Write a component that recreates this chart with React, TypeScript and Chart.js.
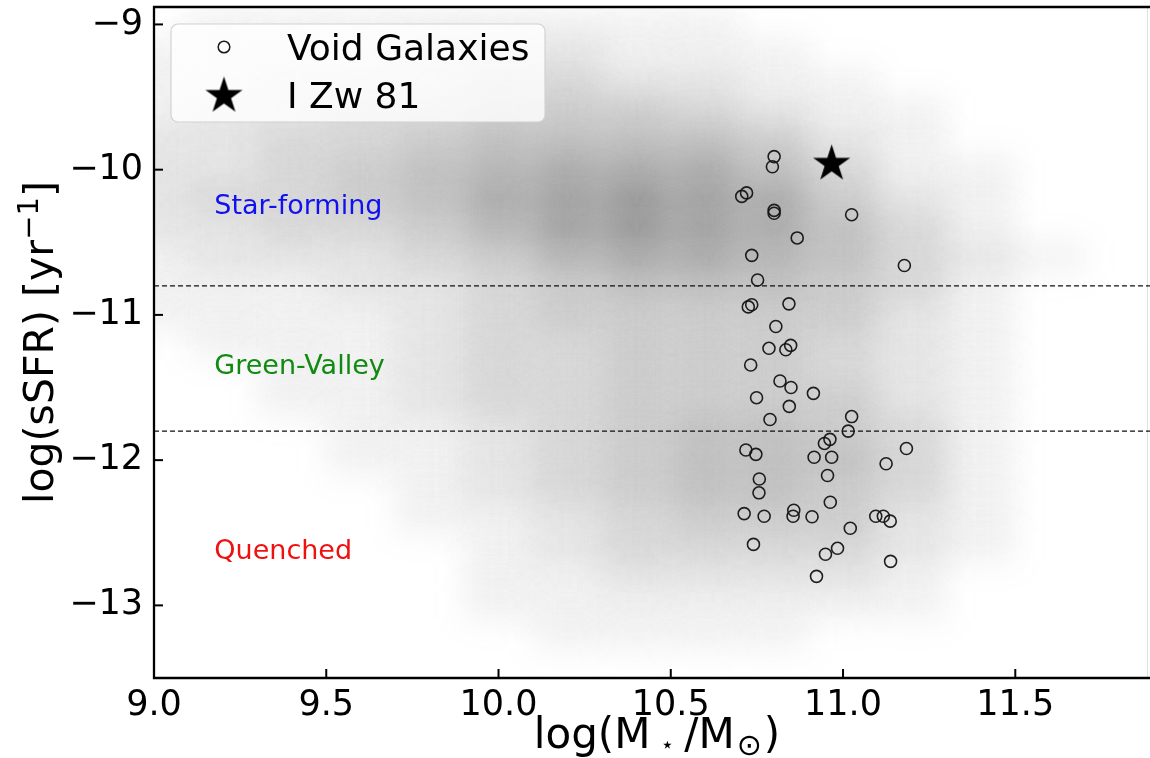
import React, { useEffect, useRef } from 'react';
import { Chart, registerables } from 'chart.js';

Chart.register(...registerables);

// ---------------- data ----------------
const voidLabel = 'Void Galaxies';
const starLabel = 'I Zw 81';

const voidMass = [
  10.80, 10.795, 10.72, 10.706, 10.80, 10.80, 11.025, 10.867, 10.735, 11.178,
  10.752, 10.735, 10.725, 10.843, 10.805, 10.785, 10.848, 10.834, 10.732, 10.817,
  10.849, 10.914, 10.749, 10.844, 10.788, 11.025, 11.015, 10.962, 10.946, 10.718,
  10.747, 11.184, 10.916, 10.967, 11.125, 10.757, 10.955, 10.756, 10.963, 10.713,
  10.771, 10.857, 10.855, 10.910, 11.095, 11.117, 11.137, 11.021, 10.74, 10.984,
  10.949, 11.138, 10.923,
];
const voidSSFR = [
  -9.91, -9.98, -10.16, -10.184, -10.28, -10.30, -10.31, -10.47, -10.59, -10.66,
  -10.76, -10.93, -10.945, -10.924, -11.08, -11.23, -11.21, -11.24, -11.345, -11.455,
  -11.50, -11.54, -11.57, -11.63, -11.72, -11.70, -11.80, -11.857, -11.885, -11.93,
  -11.96, -11.92, -11.98, -11.98, -12.025, -12.13, -12.106, -12.225, -12.29, -12.368,
  -12.386, -12.345, -12.386, -12.39, -12.386, -12.386, -12.42, -12.469, -12.58, -12.607,
  -12.648, -12.697, -12.80,
];

const starMass = [10.967];
const starSSFR = [-9.96];

const boundaries = [-10.8, -11.8];

const regionNames = ['Star-forming', 'Green-Valley', 'Quenched'];
const regionColors = ['#1010f0', '#108a10', '#f01010'];
const regionX = 9.175;
const regionY = [-10.26, -11.36, -12.63];

const xTickValues = [9.0, 9.5, 10.0, 10.5, 11.0, 11.5];
const yTickValues = [-13, -12, -11, -10, -9];

// background sample: estimated point density (0-9) on a 0.2 x 0.2 grid
const cloudX = [9.0, 9.2, 9.4, 9.6, 9.8, 10.0, 10.2, 10.4, 10.6, 10.8, 11.0, 11.2, 11.4, 11.6, 11.8];
const cloudY = [
  -9.0, -9.2, -9.4, -9.6, -9.8, -10.0, -10.2, -10.4, -10.6, -10.8, -11.0, -11.2,
  -11.4, -11.6, -11.8, -12.0, -12.2, -12.4, -12.6, -12.8, -13.0, -13.2, -13.4,
];
const cloudDensity = [
  '011111111000000',
  '111122211100000',
  '112223322110000',
  '122334443211000',
  '223345555421000',
  '223456777531100',
  '233457898742100',
  '223346898753100',
  '122234677653210',
  '111223455543100',
  '111123444442100',
  '011123344432100',
  '001123344432100',
  '001123344442100',
  '000112345543100',
  '000112345553100',
  '000012345543100',
  '000011234442100',
  '000001233332100',
  '000001122221000',
  '000001111111000',
  '000000111100000',
  '000000000000000',
];

// ---------------- helpers ----------------
const FONT = '"DejaVu Sans", "Liberation Sans", sans-serif';

function makeStar(R: number): HTMLCanvasElement {
  const s = Math.ceil(R * 2 + 4);
  const c = document.createElement('canvas');
  c.width = s;
  c.height = s;
  const g = c.getContext('2d')!;
  const cx = s / 2, cy = s / 2;
  const r = R * 0.381966;
  g.beginPath();
  for (let k = 0; k < 10; k++) {
    const ang = -Math.PI / 2 + (k * Math.PI) / 5;
    const rr = k % 2 === 0 ? R : r;
    const px = cx + rr * Math.cos(ang);
    const py = cy + rr * Math.sin(ang);
    if (k === 0) g.moveTo(px, py); else g.lineTo(px, py);
  }
  g.closePath();
  g.fillStyle = '#000';
  g.fill();
  return c;
}

type Seg = { t: string; size: number; dy: number; gap?: number };

function drawSegs(ctx: CanvasRenderingContext2D, segs: Seg[], cx: number, baseY: number) {
  let total = 0;
  const widths = segs.map((s) => {
    ctx.font = `${s.size}px ${FONT}`;
    const w = ctx.measureText(s.t).width + (s.gap || 0) * 2;
    total += w;
    return w;
  });
  let x = cx - total / 2;
  ctx.textAlign = 'left';
  ctx.textBaseline = 'alphabetic';
  segs.forEach((s, i) => {
    ctx.font = `${s.size}px ${FONT}`;
    ctx.fillText(s.t, x + (s.gap || 0), baseY + s.dy);
    x += widths[i];
  });
}

export default function App() {
  const ref = useRef<HTMLCanvasElement | null>(null);

  useEffect(() => {
    document.body.style.margin = '0';
    const canvas = ref.current;
    if (!canvas) return;

    const starImg = makeStar(19.5);

    const cloudData: { x: number; y: [number, number]; d: number }[] = [];
    cloudY.forEach((cy, r) => {
      cloudX.forEach((cx, c) => {
        const d = Number(cloudDensity[r][c]);
        if (d > 0) cloudData.push({ x: cx, y: [cy - 0.1, cy + 0.1], d });
      });
    });

    const voidData = voidMass.map((x, i) => ({ x, y: voidSSFR[i] }));
    const starData = starMass.map((x, i) => ({ x, y: starSSFR[i] }));

    const decor = {
      id: 'decor',
      beforeDatasetDraw(chart: any, args: any) {
        if (args.index === 0) {
          chart.ctx.save();
          chart.ctx.filter = 'blur(16px)';
        }
      },
      afterDatasetDraw(chart: any, args: any) {
        if (args.index === 0) chart.ctx.restore();
      },
      afterDatasetsDraw(chart: any) {
        const { ctx, chartArea: a, scales } = chart;
        const xs = scales.x, ys = scales.y;
        ctx.save();
        // region labels
        ctx.font = `27px ${FONT}`;
        ctx.textAlign = 'left';
        ctx.textBaseline = 'middle';
        regionNames.forEach((t, i) => {
          ctx.fillStyle = regionColors[i];
          ctx.fillText(t, xs.getPixelForValue(regionX), ys.getPixelForValue(regionY[i]));
        });
        // spines (the right spine lies just outside the picture)
        ctx.strokeStyle = '#000';
        ctx.lineWidth = 2.3;
        ctx.beginPath();
        ctx.moveTo(a.right + 5, a.top);
        ctx.lineTo(a.left, a.top);
        ctx.lineTo(a.left, a.bottom);
        ctx.lineTo(a.right + 5, a.bottom);
        ctx.stroke();
        ctx.strokeStyle = 'rgba(0,0,0,0.12)';
        ctx.lineWidth = 1;
        ctx.beginPath();
        ctx.moveTo(a.right - 2.5, a.top);
        ctx.lineTo(a.right - 2.5, a.bottom);
        ctx.stroke();
        // inward ticks
        ctx.strokeStyle = '#000';
        ctx.lineWidth = 2;
        xs.ticks.forEach((t: any) => {
          const px = xs.getPixelForValue(t.value);
          ctx.beginPath();
          ctx.moveTo(px, a.bottom);
          ctx.lineTo(px, a.bottom - 9);
          ctx.stroke();
        });
        ys.ticks.forEach((t: any) => {
          const py = ys.getPixelForValue(t.value);
          ctx.beginPath();
          ctx.moveTo(a.left, py);
          ctx.lineTo(a.left + 9, py);
          ctx.stroke();
        });
        ctx.restore();
      },
      afterDraw(chart: any) {
        const { ctx, chartArea: a, scales } = chart;
        ctx.save();
        // legend frame
        const lx = 171, ly = 24, lw = 374, lh = 98, rad = 7;
        ctx.beginPath();
        ctx.moveTo(lx + rad, ly);
        ctx.arcTo(lx + lw, ly, lx + lw, ly + lh, rad);
        ctx.arcTo(lx + lw, ly + lh, lx, ly + lh, rad);
        ctx.arcTo(lx, ly + lh, lx, ly, rad);
        ctx.arcTo(lx, ly, lx + lw, ly, rad);
        ctx.closePath();
        ctx.fillStyle = 'rgba(255,255,255,0.8)';
        ctx.fill();
        ctx.strokeStyle = '#d2d2d2';
        ctx.lineWidth = 1.2;
        ctx.stroke();
        // legend entries
        const ds = chart.data.datasets;
        ctx.strokeStyle = '#1a1a1a';
        ctx.lineWidth = 1.5;
        ctx.beginPath();
        ctx.arc(224, 47, 5.8, 0, Math.PI * 2);
        ctx.stroke();
        ctx.drawImage(starImg, 224 - starImg.width / 2, 96 - starImg.height / 2);
        ctx.fillStyle = '#000';
        ctx.font = `36px ${FONT}`;
        ctx.textAlign = 'left';
        ctx.textBaseline = 'alphabetic';
        ctx.fillText(ds[3].label, 287, 60);
        ctx.fillText(ds[4].label, 287, 108);
        // axis titles (x title centred on the full axes, whose right edge is cropped)
        ctx.fillStyle = '#000';
        drawSegs(
          ctx,
          [
            { t: 'log(M', size: 42, dy: 0 },
            { t: '\u22c6', size: 22, dy: 4, gap: 10 },
            { t: '/M', size: 42, dy: 0 },
            { t: '\u2299', size: 30, dy: 7, gap: 2 },
            { t: ')', size: 42, dy: 0 },
          ],
          scales.x.getPixelForValue(10.46),
          748
        );
        ctx.translate(53, (a.top + a.bottom) / 2);
        ctx.rotate(-Math.PI / 2);
        drawSegs(
          ctx,
          [
            { t: 'log(sSFR) [yr', size: 41, dy: 0 },
            { t: '\u22121', size: 29, dy: -15 },
            { t: ']', size: 41, dy: 0 },
          ],
          0,
          0
        );
        ctx.restore();
      },
    };

    const chart = new Chart(canvas, {
      type: 'scatter',
      data: {
        datasets: [
          {
            type: 'bar',
            label: 'sample',
            data: cloudData as any,
            backgroundColor: (c: any) => `rgba(110,110,110,${(c.raw ? c.raw.d : 0) * 0.095})`,
            borderWidth: 0,
            barPercentage: 1,
            categoryPercentage: 1,
            grouped: false,
            order: 10,
          } as any,
          {
            type: 'line',
            label: 'sf',
            data: [{ x: 9, y: boundaries[0] }, { x: 12, y: boundaries[0] }],
            borderColor: '#111',
            borderWidth: 1.3,
            borderDash: [5, 3],
            pointRadius: 0,
            fill: false,
            order: 5,
          } as any,
          {
            type: 'line',
            label: 'gv',
            data: [{ x: 9, y: boundaries[1] }, { x: 12, y: boundaries[1] }],
            borderColor: '#111',
            borderWidth: 1.3,
            borderDash: [5, 3],
            pointRadius: 0,
            fill: false,
            order: 5,
          } as any,
          {
            label: voidLabel,
            data: voidData,
            pointStyle: 'circle',
            pointRadius: 6,
            borderWidth: 1.6,
            borderColor: 'rgba(20,20,20,0.95)',
            backgroundColor: 'rgba(0,0,0,0)',
            order: 2,
          },
          {
            label: starLabel,
            data: starData,
            pointStyle: starImg as any,
            pointRadius: 20,
            order: 1,
          },
        ],
      },
      options: {
        animation: false,
        responsive: false,
        events: [],
        layout: { padding: { left: 0, right: 0, top: 7, bottom: 0 }, autoPadding: false } as any,
        plugins: { legend: { display: false }, tooltip: { enabled: false } },
        scales: {
          x: {
            type: 'linear',
            min: 9,
            max: 11.891,
            offset: false,
            grid: { display: false, drawTicks: false, offset: false },
            border: { display: false },
            afterBuildTicks: (s: any) => {
              s.ticks = xTickValues.map((v) => ({ value: v }));
            },
            afterFit: (s: any) => {
              s.height = 80;
              s.paddingLeft = 0;
              s.paddingRight = 0;
            },
            ticks: {
              color: '#000',
              font: { family: FONT, size: 35 },
              padding: 7,
              maxRotation: 0,
              autoSkip: false,
              callback: (v: any) => Number(v).toFixed(1),
            },
          },
          y: {
            type: 'linear',
            min: -13.5,
            max: -8.88,
            beginAtZero: false,
            grid: { display: false, drawTicks: false },
            border: { display: false },
            afterBuildTicks: (s: any) => {
              s.ticks = yTickValues.map((v) => ({ value: v }));
            },
            afterFit: (s: any) => {
              s.width = 154;
              s.paddingTop = 0;
              s.paddingBottom = 0;
            },
            ticks: {
              color: '#000',
              font: { family: FONT, size: 35 },
              padding: 11,
              autoSkip: false,
              callback: (v: any) => (Number(v) < 0 ? '\u2212' + Math.abs(Number(v)) : String(v)),
            },
          },
        },
      } as any,
      plugins: [decor],
    });

    return () => chart.destroy();
  }, []);

  return (
    <div style={{ width: 1150, height: 758 }}>
      <canvas ref={ref} width={1150} height={758} style={{ display: 'block' }} />
    </div>
  );
}
